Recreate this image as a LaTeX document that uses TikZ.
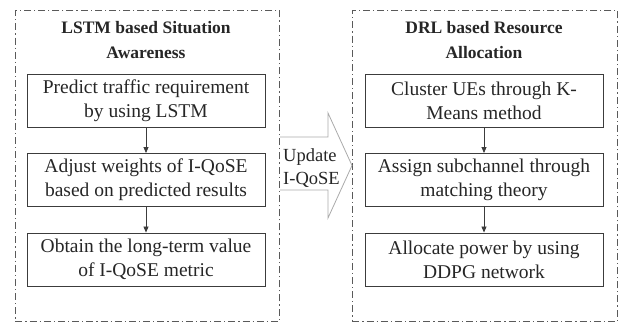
\documentclass[tikz,border=0pt]{standalone}
\usepackage{fontspec}
\setmainfont{Liberation Serif}
\usetikzlibrary{arrows.meta,shapes.arrows}
\definecolor{linec}{RGB}{60,60,60}
\definecolor{framec}{RGB}{90,90,90}
\definecolor{arrc}{RGB}{170,170,170}
\tikzset{
  frame/.style={draw=framec,line width=0.9pt,dash pattern=on 7pt off 3pt on 1.2pt off 3pt},
  stepbox/.style={draw=linec,line width=0.9pt,minimum width=238pt,minimum height=53pt,align=center,font=\fontsize{19.5}{24}\selectfont,text=black!85},
  ttl/.style={align=center,font=\bfseries\fontsize{17.5}{25}\selectfont,text=black!85},
  flow/.style={draw=linec,line width=0.8pt,-{Triangle[length=6pt,width=5pt]}},
}
\begin{document}
\begin{tikzpicture}[x=1pt,y=-1pt]
\useasboundingbox (0,0) rectangle (618,323);
% frames
\node[frame,minimum width=264pt,minimum height=311pt,anchor=north west,inner sep=0pt] (lf) at (15,10) {};
\node[frame,minimum width=265pt,minimum height=311pt,anchor=north west,inner sep=0pt] (rf) at (352,10) {};
% titles
\node[ttl] (lt) at (146,40) {LSTM based Situation\\Awareness};
\node[ttl] (rt) at (484,40) {DRL based Resource\\Allocation};
% left boxes
\node[stepbox] (l1) at (146,100.5) {Predict traffic requirement\\by using LSTM};
\node[stepbox] (l2) at (146,180) {Adjust weights of I-QoSE\\based on predicted results};
\node[stepbox] (l3) at (146,259.5) {Obtain the long-term value\\of I-QoSE metric};
% right boxes
\node[stepbox] (r1) at (484,100.5) {Cluster UEs through K-\\Means method};
\node[stepbox] (r2) at (484,180) {Assign subchannel through\\matching theory};
\node[stepbox] (r3) at (484,259.5) {Allocate power by using\\DDPG network};
% flow arrows
\draw[flow] (l1) -- (l2);
\draw[flow] (l2) -- (l3);
\draw[flow] (r1) -- (r2);
\draw[flow] (r2) -- (r3);
% big hollow arrow
\coordinate (a0) at (280,137);
\draw[draw=arrc,line width=0.8pt,fill=white] (a0) -- (328,137) -- (328,113) -- (352,165.5) -- (328,218) -- (328,190) -- (280,190);
\node[align=left,anchor=west,inner sep=0pt,font=\fontsize{18.5}{23}\selectfont,text=black!85] (upd) at (283,168) {Update\\I-QoSE};
\end{tikzpicture}
\end{document}
